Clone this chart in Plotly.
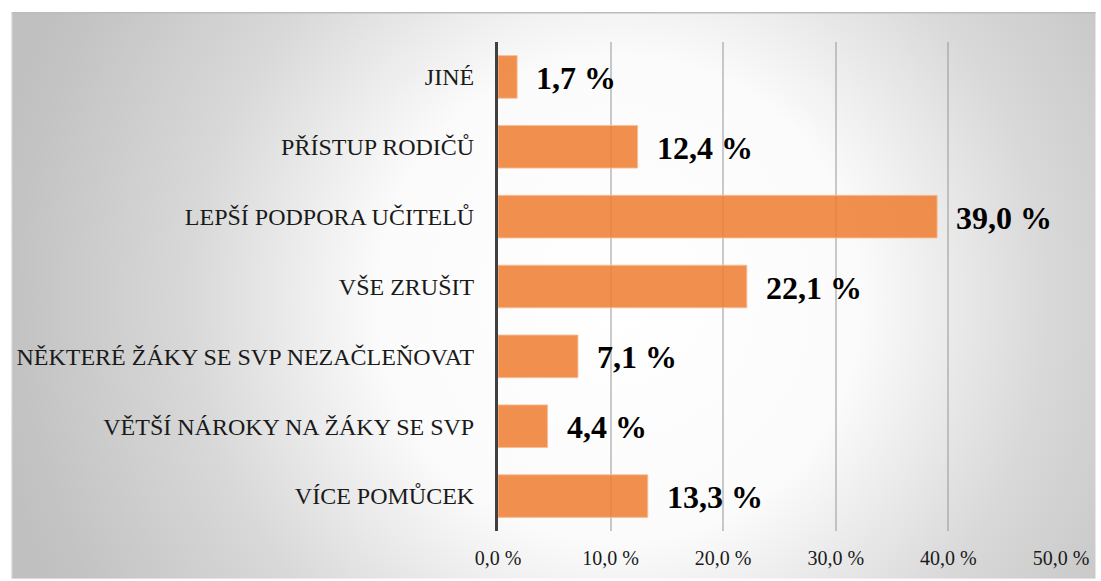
import base64
import plotly.graph_objects as go

categories = ["JINÉ", "PŘÍSTUP RODIČŮ", "LEPŠÍ PODPORA UČITELŮ", "VŠE ZRUŠIT",
              "NĚKTERÉ ŽÁKY SE SVP NEZAČLEŇOVAT", "VĚTŠÍ NÁROKY NA ŽÁKY SE SVP", "VÍCE POMŮCEK"]
values = [1.7, 12.4, 39.0, 22.1, 7.1, 4.4, 13.3]
tick_vals = [0, 10, 20, 30, 40, 50]
tick_text = ["0,0 %", "10,0 %", "20,0 %", "30,0 %", "40,0 %", "50,0 %"]

W, H = 1101, 581
ml, mr, mt, mb = 498, 35, 42, 48
pw, ph = W - ml - mr, H - mt - mb

# background gradient (style only)
bw, bh = 1094, 569
svg = f'''<svg xmlns="http://www.w3.org/2000/svg" width="{bw}" height="{bh}" viewBox="0 0 {bw} {bh}" preserveAspectRatio="none">
<defs><radialGradient id="g" gradientUnits="userSpaceOnUse" cx="613" cy="288" r="640">
<stop offset="0" stop-color="#ffffff"/>
<stop offset="0.38" stop-color="#fbfbfb"/>
<stop offset="0.68" stop-color="#d8d8d8"/>
<stop offset="0.95" stop-color="#c3c3c3"/>
<stop offset="1" stop-color="#c0c0c0"/>
</radialGradient></defs>
<rect x="0" y="0" width="{bw}" height="{bh}" fill="url(#g)"/>
<line x1="0" y1="0.75" x2="{bw}" y2="0.75" stroke="#bcbcbc" stroke-width="1.5"/>
<line x1="0.5" y1="0" x2="0.5" y2="{bh}" stroke="#e6e6e6" stroke-width="1"/>
</svg>'''
src = "data:image/svg+xml;base64," + base64.b64encode(svg.encode("utf-8")).decode()

serif = "Liberation Serif"

fig = go.Figure()
fig.add_trace(go.Bar(
    y=categories, x=values, orientation="h", width=0.61,
    marker=dict(color="rgba(237,125,49,0.86)", line=dict(color="rgba(250,190,150,0.9)", width=1)),
    hoverinfo="skip",
))

for c, v in zip(categories, values):
    fig.add_annotation(x=v, y=c, text=f"{v:.1f} %".replace(".", ","), showarrow=False,
                       xanchor="left", xshift=17, yshift=-1,
                       font=dict(family=serif, size=32, color="#000000", weight="bold"))

fig.add_layout_image(dict(source=src, xref="paper", yref="paper",
                          x=(7 - ml) / pw, y=(H - mb - 12) / ph,
                          sizex=bw / pw, sizey=bh / ph,
                          xanchor="left", yanchor="top", sizing="stretch", layer="below"))

fig.update_layout(
    width=W, height=H,
    margin=dict(l=ml, r=mr, t=mt, b=mb),
    paper_bgcolor="white", plot_bgcolor="rgba(0,0,0,0)",
    showlegend=False,
    bargap=0.39,
    xaxis=dict(range=[0, 50], tickvals=tick_vals, ticktext=tick_text,
               showgrid=True, gridcolor="rgba(150,150,150,0.5)", gridwidth=2,
               zeroline=False, showline=False,
               ticks="outside", ticklen=9, tickcolor="rgba(0,0,0,0)",
               tickfont=dict(family=serif, size=20, color="#1a1a1a")),
    yaxis=dict(autorange="reversed", showgrid=False, zeroline=False,
               showline=True, linecolor="#404040", linewidth=3,
               ticks="outside", ticklen=16, tickcolor="rgba(0,0,0,0)",
               tickfont=dict(family=serif, size=24, color="#1a1a1a")),
)

fig.write_html("out.html", config={"displayModeBar": False},
               post_script="document.body.style.margin='0';document.body.style.overflow='hidden';")
